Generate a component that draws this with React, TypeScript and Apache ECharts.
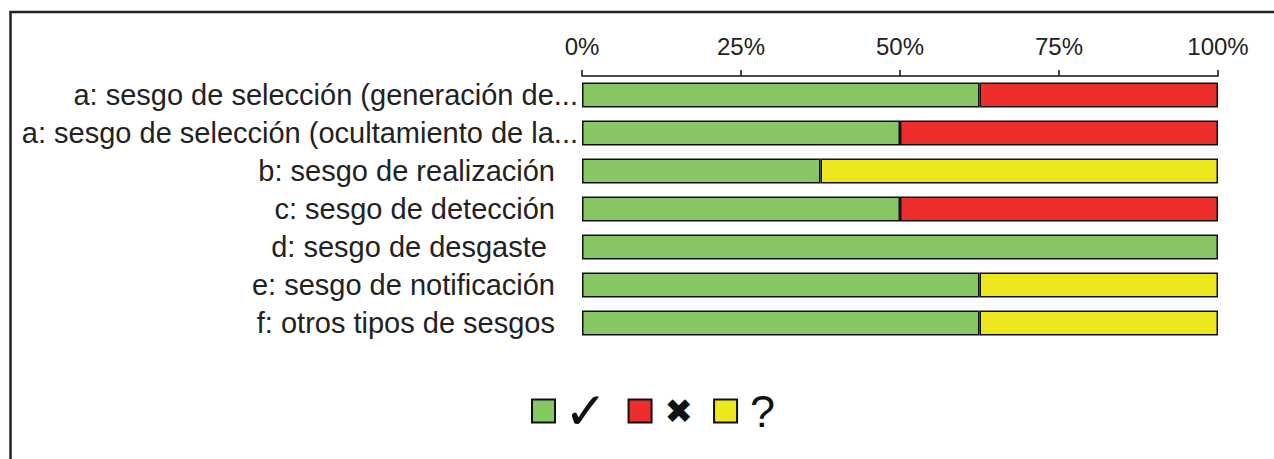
import React, { useEffect, useRef } from "react";
import * as echarts from "echarts";

const categories = [
  "a: sesgo de selección (generación de...",
  "a: sesgo de selección (ocultamiento de la...",
  "b: sesgo de realización",
  "c: sesgo de detección",
  "d: sesgo de desgaste ",
  "e: sesgo de notificación",
  "f: otros tipos de sesgos",
];
const lowRisk = [62.5, 50, 37.5, 50, 100, 62.5, 62.5];
const highRisk = [37.5, 50, 0, 50, 0, 0, 0];
const unclearRisk = [0, 0, 62.5, 0, 0, 37.5, 37.5];
const seriesNames = ["✓", "✖", "?"];
const seriesColors = ["#86C764", "#EE2D2D", "#EDE71F"];

const FONT = "Liberation Sans, Arial, sans-serif";

export default function App() {
  const ref = useRef<HTMLDivElement>(null);
  useEffect(() => {
    if (!ref.current) return;
    const chart = echarts.init(ref.current, null, { renderer: "svg" });
    const values = [lowRisk, highRisk, unclearRisk];
    chart.setOption({
      animation: false,
      backgroundColor: "#ffffff",
      textStyle: { fontFamily: FONT },
      grid: { left: 582, right: 56, top: 76, height: 266 },
      xAxis: {
        type: "value",
        position: "top",
        min: 0,
        max: 100,
        interval: 25,
        axisLine: { show: true, lineStyle: { color: "#111", width: 1.5 } },
        axisTick: { show: true, length: 6, lineStyle: { color: "#111", width: 1.5 } },
        splitLine: { show: false },
        axisLabel: {
          formatter: "{value}%",
          fontSize: 24,
          color: "#222",
          margin: 18,
        },
      },
      yAxis: {
        type: "category",
        inverse: true,
        data: categories,
        axisLine: { show: false },
        axisTick: { show: false },
        axisLabel: {
          margin: 4,
          formatter: (v: string) => (v.endsWith("...") ? `{t|${v}}` : `{p|${v}}`),
          rich: {
            t: { fontSize: 29, color: "#222", fontFamily: FONT },
            p: {
              fontSize: 29,
              color: "#222",
              fontFamily: FONT,
              padding: [0, 23, 0, 0],
            },
          },
        },
      },
      legend: {
        left: 531,
        top: 385,
        padding: 0,
        itemWidth: 23,
        itemHeight: 23,
        itemGap: 20,
        icon: "rect",
        data: seriesNames,
        formatter: (n: string) =>
          n === "✖" ? `{x|${n}}` : n === "?" ? `{q|${n}}` : `{c|${n}}`,
        textStyle: {
          color: "#111",
          rich: {
            c: { fontSize: 52, lineHeight: 40, fontFamily: "DejaVu Sans", color: "#111", padding: [0, 0, 0, 4] },
            x: { fontSize: 34, lineHeight: 40, fontFamily: "DejaVu Sans", color: "#111", padding: [0, 0, 0, 8] },
            q: { fontSize: 45, lineHeight: 40, fontFamily: FONT, color: "#111", padding: [0, 0, 0, 8] },
          },
        },
      },
      graphic: [
        {
          type: "rect",
          shape: { x: 10.5, y: 12, width: 1400, height: 600 },
          style: { fill: "none", stroke: "#222", lineWidth: 2.5 },
          silent: true,
        },
      ],
      series: seriesNames.map((name, i) => ({
        name,
        type: "bar",
        stack: "total",
        barWidth: 25,
        data: values[i].map((v) =>
          v === 0 ? { value: v, itemStyle: { borderWidth: 0 } } : v
        ),
        itemStyle: { color: seriesColors[i], borderColor: "#111", borderWidth: 1.5 },
      })),
    });
    return () => chart.dispose();
  }, []);
  return (
    <div
      ref={ref}
      style={{ position: "absolute", left: 0, top: 0, width: 1274, height: 459 }}
    />
  );
}
